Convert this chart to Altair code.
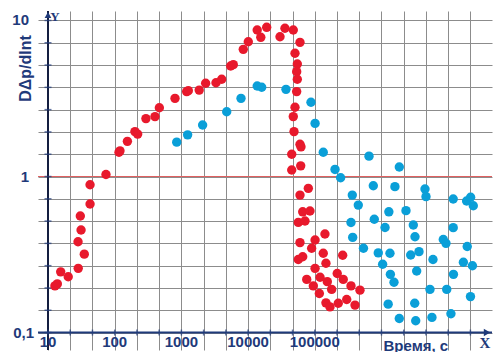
import altair as alt
import pandas as pd

# ---- data ----
red_t = [12.7, 13.8, 15.5, 20.1, 28.4, 35, 28.2, 31.3, 30.5, 42.7, 42.7, 74, 116, 120, 155, 201, 221,
         294, 402, 467, 802, 1200, 1270, 1850, 2310, 3300, 4020, 5480, 6000, 8470, 10070, 13700,
         15500, 19000, 30100, 35700, 47600, 60000, 50500, 54700, 53500, 54700, 53500, 50500, 47600,
         48800, 60000, 62100, 45100, 61500, 45100, 80000, 60000, 65900, 84700, 56600, 71300, 142000,
         60000, 101000, 89700, 134000, 56600, 65900, 262000, 101000, 147000, 75700, 120000, 217000,
         95100, 154000, 267000, 117000, 179000, 349000, 476000, 147000, 169000, 225000, 301000, 401000]
red_v = [0.199, 0.205, 0.245, 0.228, 0.258, 0.318, 0.382, 0.454, 0.558, 0.667, 0.885, 1.03, 1.43, 1.46,
         1.68, 1.94, 1.87, 2.35, 2.42, 2.76, 3.17, 3.50, 3.55, 3.58, 3.96, 3.99, 4.20, 5.11, 5.21, 6.53,
         7.31, 8.69, 7.80, 9.04, 7.87, 8.91, 8.69, 7.24, 6.17, 5.26, 4.70, 4.20, 3.50, 2.78, 2.42, 1.94,
         1.61, 1.55, 1.39, 1.17, 1.10, 0.840, 0.760, 0.594, 0.601, 0.508, 0.519, 0.428, 0.377, 0.392,
         0.347, 0.322, 0.294, 0.306, 0.313, 0.258, 0.278, 0.219, 0.226, 0.239, 0.199, 0.212, 0.219,
         0.178, 0.189, 0.199, 0.187, 0.155, 0.146, 0.154, 0.163, 0.150]

blue_t = [851, 1240, 2080, 4780, 7830, 13700, 16000, 37000, 87700, 101000, 134000, 650000, 1850000,
          201000, 244000, 754000, 1590000, 4490000, 4650000, 365000, 449000, 1290000, 2330000,
          11900000, 18900000, 21700000, 23800000, 349000, 780000, 1130000, 3000000, 3180000, 11900000,
          370000, 8450000, 9270000, 19300000, 537000, 895000, 1340000, 2740000, 3650000, 5920000,
          1040000, 16900000, 23100000, 3370000, 12000000, 1360000, 1540000, 5330000, 9510000, 21600000,
          1260000, 3150000, 11000000, 1850000, 3260000, 5710000]
blue_v = [1.66, 1.85, 2.14, 2.60, 3.17, 3.80, 3.73, 3.62, 2.99, 2.19, 1.43, 1.35, 1.15, 1.11, 0.982,
          0.873, 0.861, 0.832, 0.743, 0.760, 0.656, 0.594, 0.604, 0.718, 0.697, 0.736, 0.650, 0.507,
          0.532, 0.471, 0.489, 0.411, 0.470, 0.407, 0.395, 0.373, 0.356, 0.347, 0.324, 0.322, 0.314,
          0.330, 0.294, 0.274, 0.282, 0.268, 0.248, 0.236, 0.236, 0.210, 0.189, 0.189, 0.170, 0.152,
          0.154, 0.132, 0.123, 0.119, 0.125]

x_label_vals = [10, 100, 1000, 10000, 100000]
x_label_txt = ["10", "100", "1000", "10000", "100000"]
y_label_vals = [10, 1]
y_label_txt = ["10", "1"]
y_label_low = [0.1]
y_label_low_txt = ["0,1"]
x_grid = [10 ** (1 + k / 3) for k in range(20)]
y_grid = [10 ** (-1 + k / 7) for k in range(15)]

NAVY = "#1f3a7a"
FONT = "Liberation Sans"
W, H = 454, 339

xs = alt.Scale(type="log", domain=[7.08, 45400000], nice=False)
ys = alt.Scale(type="log", domain=[0.0773, 11.5], nice=False)

xax = alt.Axis(values=x_grid, grid=True, gridColor="#8c8c8c", gridWidth=1, labels=False, ticks=False,
               domain=False, title="Время, с", titleX=345, titleY=-5, titleAlign="left",
               titleBaseline="middle", titleFontSize=15, titleFontWeight="bold", titleColor=NAVY,
               titleFont=FONT)
yax = alt.Axis(values=y_grid, grid=True, gridColor="#8c8c8c", gridWidth=1, labels=False, ticks=False,
               domain=False, title="DΔp/dlnt", titleX=-13, titleY=57, titleAngle=270,
               titleAlign="center", titleBaseline="middle", titleFontSize=16, titleFontWeight="bold",
               titleColor=NAVY, titleFont=FONT)


def X(f):
    return alt.X(f, type="quantitative", scale=xs, axis=xax)


def Y(f):
    return alt.Y(f, type="quantitative", scale=ys, axis=yax)


red_df = pd.DataFrame({"t": red_t, "v": red_v})
blue_df = pd.DataFrame({"t": blue_t, "v": blue_v})

blue = alt.Chart(blue_df).mark_circle(size=88, opacity=1, color="#0a9fd8").encode(x=X("t"), y=Y("v"))
red = alt.Chart(red_df).mark_circle(size=88, opacity=1, color="#e8192c").encode(x=X("t"), y=Y("v"))

one_line = alt.Chart(pd.DataFrame({"v": [1]})).mark_rule(color="#e06060", strokeWidth=1).encode(y=Y("v"))
x_axis_line = alt.Chart(pd.DataFrame({"v": [0.1]})).mark_rule(color=NAVY, strokeWidth=2).encode(y=Y("v"))
y_axis_line = alt.Chart(pd.DataFrame({"t": [10]})).mark_rule(color="#141e40", strokeWidth=2).encode(x=X("t"))

x_ticks = alt.Chart(pd.DataFrame({"t": x_grid, "v": [0.1] * len(x_grid)})).mark_tick(
    orient="vertical", size=6, thickness=1.5, color=NAVY).encode(x=X("t"), y=Y("v"))
y_ticks = alt.Chart(pd.DataFrame({"t": [10] * len(y_grid), "v": y_grid})).mark_tick(
    orient="horizontal", size=7, thickness=1.5, color=NAVY).encode(x=X("t"), y=Y("v"))

x_arrow = alt.Chart(pd.DataFrame({"v": [0.1]})).mark_point(
    shape="triangle-right", size=55, filled=True, opacity=1, color=NAVY).encode(
    x=alt.value(449), y=Y("v"))
y_arrow = alt.Chart(pd.DataFrame({"t": [10]})).mark_point(
    shape="triangle-up", size=45, filled=True, opacity=1, color=NAVY).encode(
    x=X("t"), y=alt.value(4))

x_labels = alt.Chart(pd.DataFrame({"t": x_label_vals, "v": [0.1] * 5, "s": x_label_txt})).mark_text(
    dy=9, baseline="middle", align="center", fontSize=15, fontWeight="bold", font=FONT, color=NAVY
).encode(x=X("t"), y=Y("v"), text="s:N")
y_labels = alt.Chart(pd.DataFrame({"t": [10, 10], "v": y_label_vals, "s": y_label_txt})).mark_text(
    dx=-19, baseline="middle", align="right", fontSize=15, fontWeight="bold", font=FONT, color=NAVY
).encode(x=X("t"), y=Y("v"), text="s:N")
y_label_0 = alt.Chart(pd.DataFrame({"t": [10], "v": y_label_low, "s": y_label_low_txt})).mark_text(
    dx=-14, baseline="middle", align="right", fontSize=15, fontWeight="bold", font=FONT, color=NAVY
).encode(x=X("t"), y=Y("v"), text="s:N")

letter_y = alt.Chart(pd.DataFrame({"s": ["Y"]})).mark_text(
    fontSize=13, fontWeight="bold", font="Liberation Sans Narrow", color=NAVY, baseline="middle"
).encode(x=alt.value(17), y=alt.value(6), text="s:N")
letter_x = alt.Chart(pd.DataFrame({"s": ["X"]})).mark_text(
    fontSize=15, fontWeight="bold", font="Liberation Sans Narrow", color=NAVY, baseline="middle"
).encode(x=alt.value(447), y=alt.value(332), text="s:N")

chart = alt.layer(
    one_line, y_axis_line, x_axis_line, x_ticks, y_ticks, x_arrow, y_arrow,
    blue, red, x_labels, y_labels, y_label_0, letter_y, letter_x
).properties(
    width=W, height=H,
    padding={"left": 30, "top": 3, "right": 4, "bottom": 2},
    autosize=alt.AutoSizeParams(type="none"),
    background="white",
).configure_view(strokeWidth=0)

chart.save("out.html", embed_options={"renderer": "svg", "actions": False})
